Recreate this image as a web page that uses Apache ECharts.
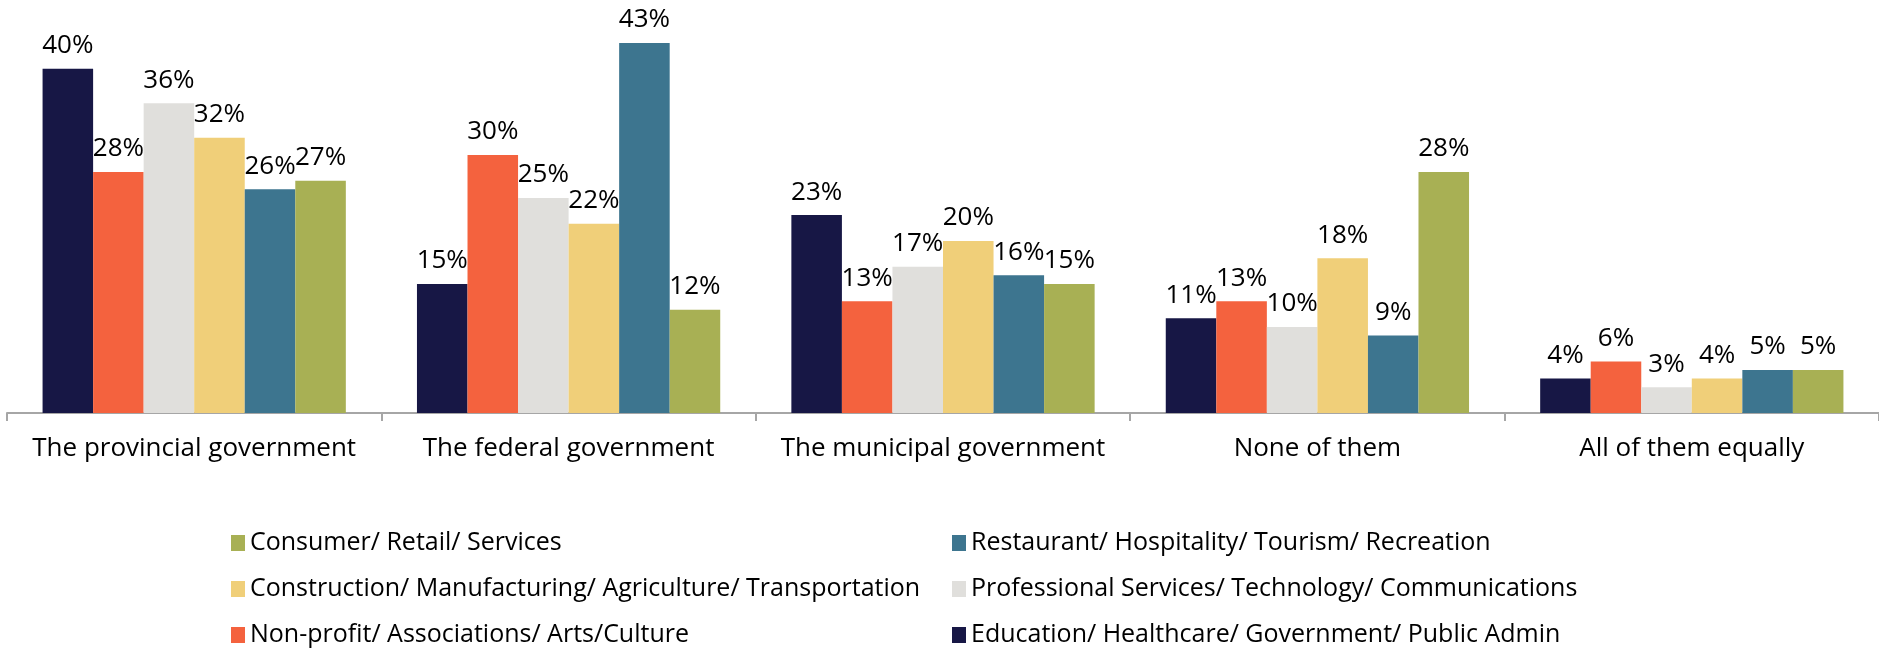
<!DOCTYPE html>
<html>
<head>
<meta charset="utf-8">
<title>Which level of government</title>
<script src="https://cdn.jsdelivr.net/npm/echarts@6/dist/echarts.min.js"></script>
<style>
  html, body { margin: 0; padding: 0; background: #fff; }
  #chart { width: 1879px; height: 649px; }
</style>
</head>
<body>
<div id="chart"></div>
<script>
// 分类
var categories = ["The provincial government", "The federal government", "The municipal government", "None of them", "All of them equally"];

// 各行业数据（%）
var education = [40, 15, 23, 11, 4];
var nonprofit = [28, 30, 13, 13, 6];
var professional = [36, 25, 17, 10, 3];
var construction = [32, 22, 20, 18, 4];
var restaurant = [26, 43, 16, 9, 5];
var consumer = [27, 12, 15, 28, 5];

var seriesNames = [
  "Education/ Healthcare/ Government/ Public Admin",
  "Non-profit/ Associations/ Arts/Culture",
  "Professional Services/ Technology/ Communications",
  "Construction/ Manufacturing/ Agriculture/ Transportation",
  "Restaurant/ Hospitality/ Tourism/ Recreation",
  "Consumer/ Retail/ Services"
];
var seriesData = [education, nonprofit, professional, construction, restaurant, consumer];
var colors = ["#171745", "#f4623e", "#e0dfdc", "#f0cf79", "#3d758f", "#a8b054"];

var font = "Open Sans";

var series = [];
for (let i in seriesNames) {
  series.push({
    name: seriesNames[i],
    type: "bar",
    data: seriesData[i],
    barGap: "0%",
    barCategoryGap: "19%",
    itemStyle: { color: colors[i] },
    label: {
      show: true,
      position: "top",
      distance: 10,
      formatter: "{c}%",
      color: "#000",
      fontFamily: font,
      fontSize: 26
    }
  });
}

// 图例分两列，顺序与系列相反
function legendColumn(names, left) {
  return {
    orient: "vertical",
    left: left,
    top: 530,
    padding: 0,
    itemGap: 20,
    itemWidth: 14,
    itemHeight: 16,
    icon: "rect",
    data: names,
    textStyle: { color: "#000", fontFamily: font, fontSize: 25, lineHeight: 26 }
  };
}

var myChart = echarts.init(document.getElementById("chart"));
var option = {
  animation: false,
  color: colors,
  grid: { left: 7, right: 0, top: 0, bottom: 236, containLabel: false },
  legend: [
    legendColumn([seriesNames[5], seriesNames[3], seriesNames[1]], 231),
    legendColumn([seriesNames[4], seriesNames[2], seriesNames[0]], 952)
  ],
  xAxis: {
    type: "category",
    data: categories,
    axisLine: { lineStyle: { color: "#a6a6a6", width: 2 } },
    axisTick: { show: true, length: 8, lineStyle: { color: "#a6a6a6", width: 2 } },
    axisLabel: { color: "#000", fontFamily: font, fontSize: 26, margin: 23, interval: 0 }
  },
  yAxis: {
    type: "value",
    min: 0,
    max: 48,
    show: false,
    splitLine: { show: false }
  },
  series: series
};
myChart.setOption(option);
</script>
</body>
</html>
